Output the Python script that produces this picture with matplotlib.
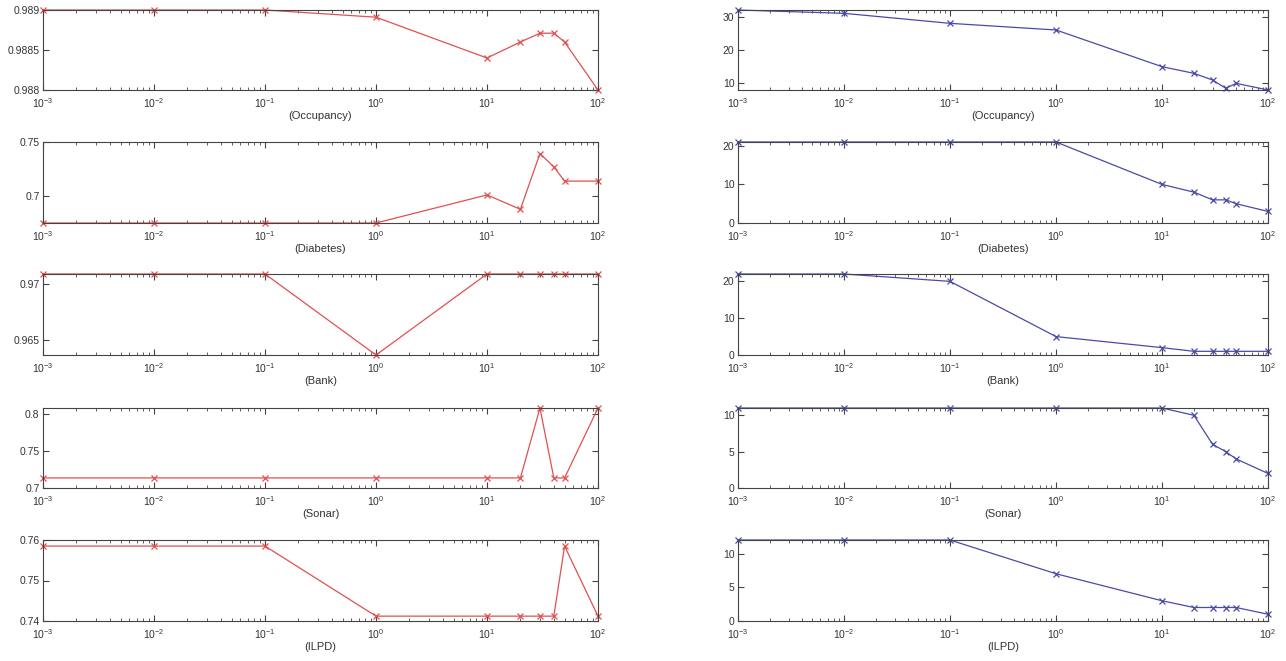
import numpy as np
from matplotlib import pyplot as plt
from matplotlib.ticker import LogLocator, NullFormatter

plt.rcParams["font.family"] = ["Liberation Sans", "DejaVu Sans"]

# Regularisation values (x axis, shared by every panel)
c_vals = [0.001, 0.01, 0.1, 1, 10, 20, 30, 40, 50, 100]

datasets = ["(Occupancy)", "(Diabetes)", "(Bank)", "(Sonar)", "(ILPD)"]

# Left column: accuracy
acc_occupancy = [0.989, 0.989, 0.989, 0.98891, 0.9884, 0.9886, 0.98871, 0.98871, 0.9886, 0.988]
acc_diabetes = [0.675, 0.675, 0.675, 0.675, 0.701, 0.6877, 0.7393, 0.727, 0.7138, 0.7138]
acc_bank = [0.9709, 0.9709, 0.9709, 0.96365, 0.9709, 0.9709, 0.9709, 0.9709, 0.9709, 0.9709]
acc_sonar = [0.7136, 0.7136, 0.7136, 0.7136, 0.7136, 0.7136, 0.808, 0.7136, 0.7136, 0.808]
acc_ilpd = [0.7585, 0.7585, 0.7585, 0.7412, 0.7412, 0.7412, 0.7412, 0.7412, 0.7585, 0.7412]

# Right column: number of selected features
nf_occupancy = [32, 31, 28, 26, 15, 13, 11, 8.5, 10, 8]
nf_diabetes = [21, 21, 21, 21, 10, 8, 6, 6, 5, 3]
nf_bank = [22, 22, 20, 5, 2, 1, 1, 1, 1, 1]
nf_sonar = [11, 11, 11, 11, 11, 10, 6, 5, 4, 2]
nf_ilpd = [12, 12, 12, 7, 3, 2, 2, 2, 2, 1]

acc_all = [acc_occupancy, acc_diabetes, acc_bank, acc_sonar, acc_ilpd]
nf_all = [nf_occupancy, nf_diabetes, nf_bank, nf_sonar, nf_ilpd]

acc_ylims = [(0.988, 0.989), (0.675, 0.75), (0.96365, 0.9709), (0.7, 0.808), (0.74, 0.76)]
acc_yticks = [[0.988, 0.9885, 0.989], [0.7, 0.75], [0.965, 0.97], [0.7, 0.75, 0.8], [0.74, 0.75, 0.76]]
acc_ylabels = [["0.988", "0.9885", "0.989"], ["0.7", "0.75"], ["0.965", "0.97"],
               ["0.7", "0.75", "0.8"], ["0.74", "0.75", "0.76"]]

nf_ylims = [(8, 32), (0, 21), (0, 22), (0, 11), (0, 12)]
nf_yticks = [[10, 20, 30], [0, 10, 20], [0, 10, 20], [0, 5, 10], [0, 5, 10]]

W, H = 1286, 661
row_px = [(10, 90), (142, 223), (274, 355), (408, 488), (540, 621)]
left_px = (43, 598)
right_px = (738, 1268)

fig = plt.figure(figsize=(W / 100, H / 100), dpi=100)

axis_col = "#444444"
txt_col = "#333333"


def style(ax, xlabel):
    ax.set_xscale("log")
    ax.set_xlim(1e-3, 1e2)
    ax.xaxis.set_major_locator(LogLocator(base=10, numticks=10))
    ax.xaxis.set_minor_locator(LogLocator(base=10, subs=np.arange(2, 10), numticks=20))
    ax.xaxis.set_minor_formatter(NullFormatter())
    ax.tick_params(which="both", direction="in", top=True, right=True,
                   colors=axis_col, labelcolor=txt_col, labelsize=7.5)
    ax.tick_params(axis="x", which="major", pad=4.5)
    ax.tick_params(axis="y", which="major", pad=2.5)
    ax.tick_params(which="major", length=4, width=0.8)
    ax.tick_params(which="minor", length=2, width=0.6)
    for s in ax.spines.values():
        s.set_color(axis_col)
        s.set_linewidth(0.8)
    ax.set_xlabel(xlabel, fontsize=8, color=txt_col, labelpad=1)


for i in range(5):
    top, bot = row_px[i]
    y0 = 1 - bot / H
    h = (bot - top) / H

    ax = fig.add_axes([left_px[0] / W, y0, (left_px[1] - left_px[0]) / W, h])
    ax.plot(c_vals, acc_all[i], color="#e05050", lw=0.9, marker="x", ms=4, mew=0.9, clip_on=False)
    ax.set_ylim(*acc_ylims[i])
    ax.set_yticks(acc_yticks[i])
    ax.set_yticklabels(acc_ylabels[i])
    style(ax, datasets[i])

    ax = fig.add_axes([right_px[0] / W, y0, (right_px[1] - right_px[0]) / W, h])
    ax.plot(c_vals, nf_all[i], color="#4a4aa8", lw=0.9, marker="x", ms=4, mew=0.9, clip_on=False)
    ax.set_ylim(*nf_ylims[i])
    ax.set_yticks(nf_yticks[i])
    style(ax, datasets[i])

fig.savefig("out.png", dpi=100)
